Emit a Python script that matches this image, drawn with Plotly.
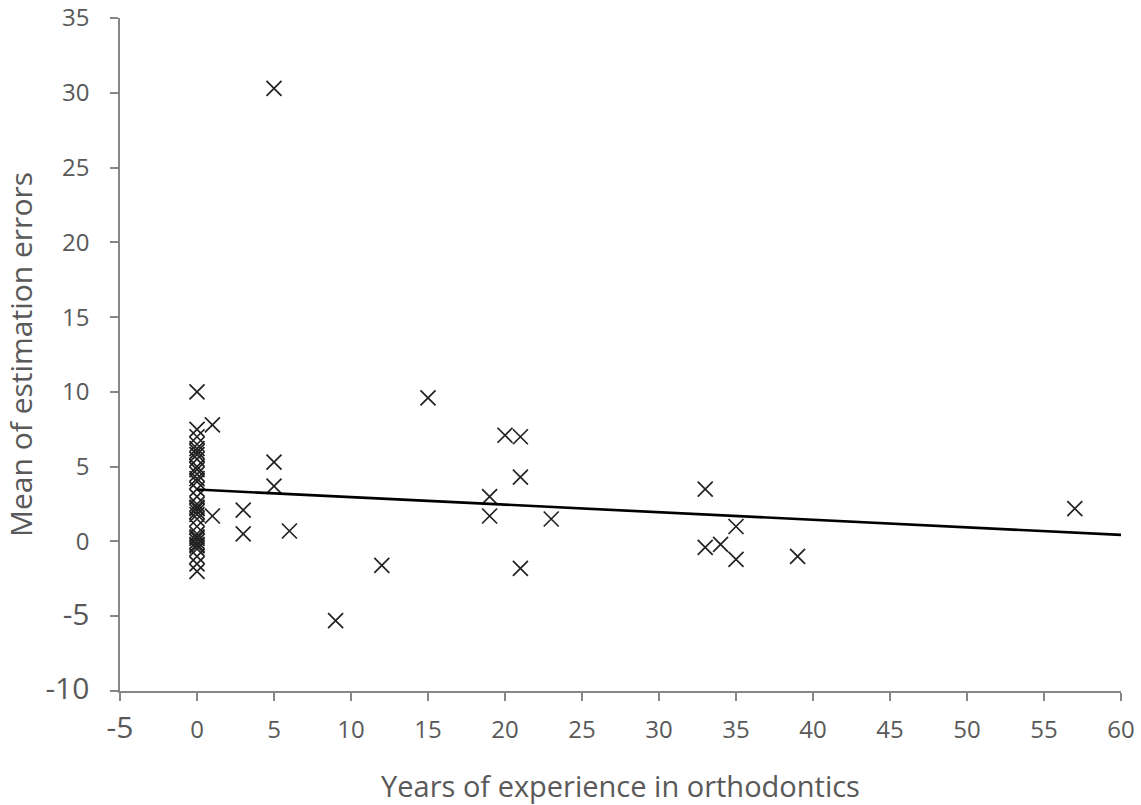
import numpy as np
import plotly.graph_objects as go

# Data
years = [0]*32 + [5, 1, 15, 20, 21, 21, 19, 19, 23, 21, 5, 5, 3, 3, 6, 1, 12, 9,
                  33, 33, 34, 35, 35, 39, 57]
errors = [10.0, 7.5, 7.0, 6.5, 6.2, 6.0, 5.8, 5.5, 5.0, 4.8, 4.5, 4.2, 4.0, 3.5,
          3.0, 2.5, 2.3, 2.2, 2.0, 1.8, 1.5, 1.0, 0.5, 0.3, 0.2, 0.0, -0.2, -0.3,
          -0.5, -1.0, -1.5, -2.0,
          30.3, 7.8, 9.6, 7.1, 7.0, 4.3, 3.0, 1.7, 1.5, -1.8, 5.3, 3.7, 2.1, 0.5,
          0.7, 1.7, -1.6, -5.3, 3.5, -0.4, -0.2, 1.0, -1.2, -1.0, 2.2]

x_ticks = [-5, 0, 5, 10, 15, 20, 25, 30, 35, 40, 45, 50, 55, 60]
y_ticks = [-10, -5, 0, 5, 10, 15, 20, 25, 30, 35]
X_RANGE = [-5, 60]
Y_RANGE = [-10, 35]

# Linear trend (least squares), extended to the end of the axis
slope, intercept = np.polyfit(years, errors, 1)
trend_x = np.array([min(years), X_RANGE[1]])
trend_y = slope * trend_x + intercept

GRAY = "#595959"
AXIS = "#868686"
FONT = "Open Sans"

def tick_label(v):
    if v < 0:
        return f'<span style="font-size:30px">{v}</span>'
    return str(v)

fig = go.Figure()
fig.add_trace(go.Scatter(
    x=years, y=errors, mode="markers",
    marker=dict(symbol="x-thin-open", size=15, color="#222222",
                line=dict(color="#222222", width=1.7)),
    showlegend=False, hoverinfo="x+y"))
fig.add_trace(go.Scatter(
    x=trend_x, y=trend_y, mode="lines",
    line=dict(color="black", width=2.6),
    showlegend=False, hoverinfo="skip"))

fig.update_layout(
    width=1141, height=805,
    margin=dict(l=120, r=20, t=18, b=114),
    paper_bgcolor="white", plot_bgcolor="white",
    font=dict(family=FONT, color=GRAY, size=24),
)
fig.update_xaxes(
    range=X_RANGE, tickmode="array", tickvals=x_ticks,
    ticktext=[tick_label(v) for v in x_ticks], automargin=False,
    showgrid=False, zeroline=False, showline=True, linecolor=AXIS, linewidth=1.5,
    ticks="outside", ticklen=8, tickcolor=AXIS, tickwidth=1.5,
    ticklabelstandoff=8,
    tickfont=dict(family=FONT, color=GRAY, size=24),
    title=dict(text="Years of experience in orthodontics",
               font=dict(family=FONT, color=GRAY, size=29), standoff=34),
)
fig.update_yaxes(
    range=Y_RANGE, tickmode="array", tickvals=y_ticks,
    ticktext=[tick_label(v) for v in y_ticks], automargin=False,
    showgrid=False, zeroline=False, showline=True, linecolor=AXIS, linewidth=1.5,
    ticks="outside", ticklen=8, tickcolor=AXIS, tickwidth=1.5,
    ticklabelstandoff=16,
    tickfont=dict(family=FONT, color=GRAY, size=24),
    title=dict(text="Mean of estimation errors",
               font=dict(family=FONT, color=GRAY, size=30), standoff=12),
)

fig.write_html("out.html",
               config={"displayModeBar": False},
               post_script="document.body.style.margin='0';"
                           "document.body.style.overflow='hidden';")
